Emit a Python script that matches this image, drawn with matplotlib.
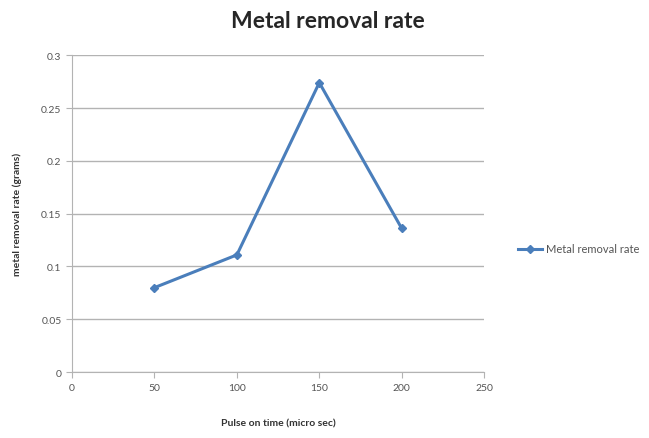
import matplotlib.pyplot as plt

# pulse on time vs. metal removal rate
pulse_on_time = [50, 100, 150, 200]
removal_rate = [0.080, 0.111, 0.274, 0.136]
x_ticks = [0, 50, 100, 150, 200, 250]
y_ticks = [0, 0.05, 0.1, 0.15, 0.2, 0.25, 0.3]
y_tick_labels = ['0', '0.05', '0.1', '0.15', '0.2', '0.25', '0.3']

plt.rcParams['font.family'] = ['Lato', 'DejaVu Sans']

fig = plt.figure(figsize=(6.49, 4.39), dpi=100)
ax = fig.add_axes([0.111, 0.150, 0.635, 0.722])

line_color = '#4a7ebb'
ax.plot(pulse_on_time, removal_rate, color=line_color, lw=2.2,
        marker='D', markersize=4.5, label='Metal removal rate')

ax.set_xlim(0, 250)
ax.set_ylim(0, 0.3)
ax.set_xticks(x_ticks)
ax.set_yticks(y_ticks)
ax.set_yticklabels(y_tick_labels)

ax.grid(axis='y', color='#b3b3b3', lw=1)
ax.set_axisbelow(True)
for side in ['top', 'right']:
    ax.spines[side].set_visible(False)
for side in ['left', 'bottom']:
    ax.spines[side].set_color('#b3b3b3')
ax.tick_params(colors='#b3b3b3', labelcolor='#555555', labelsize=7.5,
               length=4, direction='out')

fig.suptitle('Metal removal rate', fontsize=16.5, fontweight='bold',
             color='#262626', y=0.975, x=0.505)
ax.set_xlabel('Pulse on time (micro sec)', fontsize=7.5, fontweight='bold',
              color='#333333', labelpad=19)
ax.set_ylabel('metal removal rate (grams)', fontsize=7.5, fontweight='bold',
              color='#333333', labelpad=14)

ax.legend(loc='center left', bbox_to_anchor=(518 / 649, 1 - 250 / 439),
          bbox_transform=fig.transFigure, borderaxespad=0, borderpad=0,
          frameon=False, fontsize=8, handlelength=2.2, handletextpad=0.3,
          labelcolor='#555555')

fig.savefig('out.png', dpi=100)
